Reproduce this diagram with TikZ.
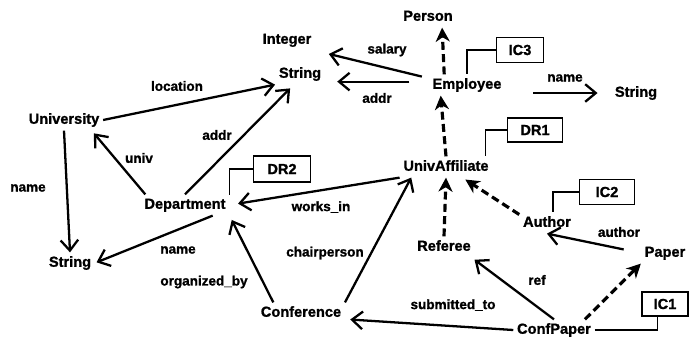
\documentclass[tikz,border=0pt]{standalone}
\usepackage{fontspec}
\setmainfont{Liberation Sans}[BoldFeatures={FakeBold=1.2}]
\usetikzlibrary{arrows.meta}

\begin{document}
\begin{tikzpicture}[x=0.02cm,y=-0.02cm,
    cls/.style={font=\fontsize{8.3}{10}\selectfont\bfseries,inner sep=2pt,text height=6pt,text depth=1.7pt},
    lbl/.style={font=\fontsize{7.7}{9}\selectfont\bfseries,inner sep=1pt},
    cbox/.style={draw,line width=0.9pt,font=\fontsize{8.3}{10}\selectfont\bfseries,inner sep=1pt},
    arr/.style={line width=1.3pt,-{Straight Barb[length=6pt,width=10pt]}},
    isa/.style={line width=1.8pt,dash pattern=on 4.5pt off 2.5pt,-{Stealth[length=8pt,width=8pt,inset=2.5pt]}},
    tie/.style={line width=0.8pt}]
            \useasboundingbox (0,0) rectangle (690,338);
            \node[cls] (person) at (428,17) {Person};
            \node[cls] (integer) at (287,40) {Integer};
            \node[cls] (strA) at (300,74) {String};
            \node[cls] (emp) at (467,85) {Employee};
            \node[cls] (strB) at (636,93) {String};
            \node[cls] (univ) at (64,120) {University};
            \node[cls] (dept) at (185,205) {Department};
            \node[cls] (aff) at (446,167) {UnivAffiliate};
            \node[cls] (strC) at (70,263) {String};
            \node[cls] (author) at (547,223) {Author};
            \node[cls] (referee) at (444,247) {Referee};
            \node[cls] (paper) at (665,253) {Paper};
            \node[cls] (conf) at (301,313) {Conference};
            \node[cls] (confp) at (554,330) {ConfPaper};
            \node[cbox,minimum width=0.94cm,minimum height=0.5cm] (ic3) at (520,50) {IC3};
            \node[cbox,minimum width=1.1cm,minimum height=0.48cm] (dr1) at (535,130) {DR1};
            \node[cbox,minimum width=1.14cm,minimum height=0.52cm] (dr2) at (282,169) {DR2};
            \node[cbox,minimum width=1.1cm,minimum height=0.5cm] (ic2) at (607,192) {IC2};
            \node[cbox,minimum width=0.92cm,minimum height=0.48cm] (ic1) at (665,304) {IC1};
            \node[lbl] (lloc) at (177,86) {location};
            \node[lbl] (laddrA) at (217,135) {addr};
            \node[lbl] (luniv) at (139,158) {univ};
            \node[lbl] (lnameA) at (28,188) {name};
            \node[lbl] (lsal) at (387,50) {salary};
            \node[lbl] (laddrB) at (377,98) {addr};
            \node[lbl] (lnameB) at (565,78) {name};
            \node[lbl] (lworks) at (321,207) {works\_in};
            \node[lbl] (lnameC) at (178,250) {name};
            \node[lbl] (lorg) at (204,282) {organized\_by};
            \node[lbl] (lchair) at (325,253) {chairperson};
            \node[lbl] (lsub) at (453,305) {submitted\_to};
            \node[lbl] (lref) at (537,280) {ref};
            \node[lbl] (lauth) at (619,232) {author};
            \draw[arr] (univ.east) -- (strA.south west);
            \draw[arr,shorten >=3pt] (dept.north) -- (strA.-120);
            \draw[arr,shorten >=2pt] (dept.165) -- (univ.-21);
            \draw[arr] (univ.south) -- (strC.north);
            \draw[arr,shorten >=1pt] (dept.-21) -- (strC.east);
            \draw[arr,shorten >=5pt] (aff.south west) -- (dept.east);
            \draw[arr,shorten >=3pt] (conf.159) -- (dept.-13);
            \draw[arr] (conf.north east) -- (aff.-163);
            \draw[arr,shorten >=3pt] (confp.west) -- (conf.-8);
            \draw[arr,shorten >=2pt] (confp.north) -- (referee.-21);
            \draw[arr,shorten <=10pt] (paper.west) -- (author.south);
            \draw[arr,shorten <=4pt,shorten >=8pt] (emp.170) -- (integer.south east);
            \draw[arr,shorten <=11pt,shorten >=7pt] (emp.175) -- (emp.175 -| strA.east);
            \draw[arr,shorten <=16pt,shorten >=7.7pt] (strB.west -| emp.east) -- (strB.west);
            \draw[isa] (confp.19) -- (paper.south west);
            \draw[isa,shorten >=2pt] (author.163) -- (aff.-33);
            \draw[isa] (referee.north) -- (aff.south);
            \draw[isa] (aff.north) -- (emp.-158);
            \draw[isa] (emp.155) -- (person.-37);
            \draw[tie] (ic3.west) -| (emp.north);
            \draw[tie] (dr1.west) -| (aff.15);
            \draw[tie] (dr2.west) -| (dept.13);
            \draw[tie] (ic2.west) -| (author.60);
            \draw[tie] (confp.east) -| (ic1.-120);
        \end{tikzpicture}
\end{document}
